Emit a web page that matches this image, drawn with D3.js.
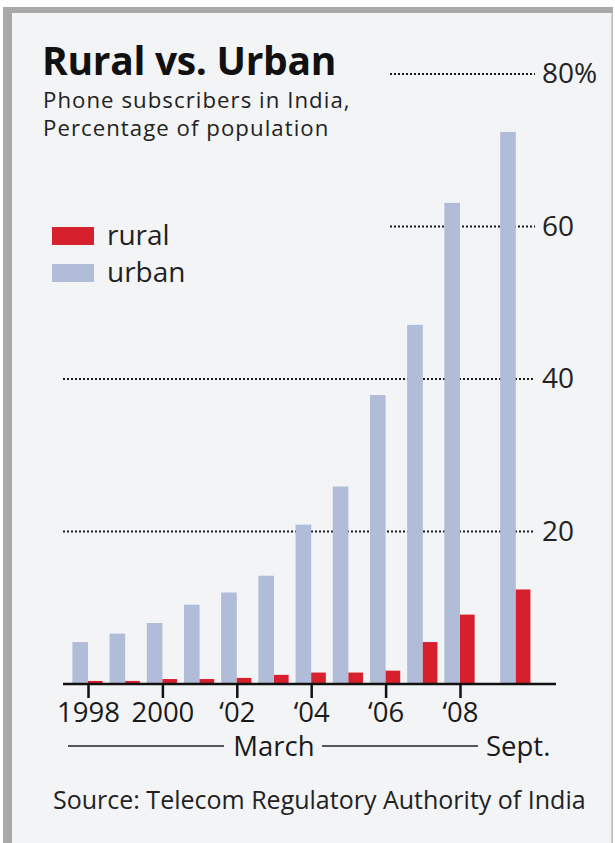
<!DOCTYPE html>
<html>
<head>
<meta charset="utf-8">
<script src="https://cdn.jsdelivr.net/npm/d3@7"></script>
<style>
  html, body { margin: 0; padding: 0; background: #ffffff; }
  svg { display: block; }
  text { font-family: "Open Sans", "Noto Sans", sans-serif; }
</style>
</head>
<body>
<script>
// ---- data ----
const periods = [1998, 1999, 2000, 2001, 2002, 2003, 2004, 2005, 2006, 2007, 2008, 2009.5];
const urban   = [5.5, 6.6, 8.0, 10.4, 12.0, 14.2, 20.9, 25.9, 37.9, 47.1, 63.1, 72.4];
const rural   = [0.4, 0.4, 0.65, 0.65, 0.8, 1.2, 1.5, 1.5, 1.75, 5.5, 9.1, 12.4];
const xTickValues = [1998, 2000, 2002, 2004, 2006, 2008];
const xTickLabels = ["1998", "2000", "\u201802", "\u201804", "\u201806", "\u201808"];
const yTickValues = [20, 40, 60, 80];
const yTickLabels = ["20", "40", "60", "80%"];
const seriesNames = ["rural", "urban"];
const titleText = "Rural vs. Urban";
const subtitleLines = ["Phone subscribers in India,", "Percentage of population"];

// ---- layout ----
const W = 615, H = 843;
const colors = { urban: "#b1bcd8", rural: "#d7202e" };

const svg = d3.select("body").append("svg").attr("width", W).attr("height", H);

// frame
svg.append("rect").attr("x", 3).attr("y", 7).attr("width", 610).attr("height", H - 7).attr("fill", "#a9a9a9");
svg.append("rect").attr("x", 12).attr("y", 13).attr("width", 599).attr("height", H - 13).attr("fill", "#f3f4f6");
svg.append("rect").attr("x", 611).attr("y", 13).attr("width", 1.5).attr("height", H - 13).attr("fill", "#d0d0d0");

const x = d3.scaleLinear().domain([1998, 2008]).range([88, 460]);
const y = d3.scaleLinear().domain([0, 80]).range([684, 74]);
const barW = x(1998.42) - x(1998);

// gridlines
const gridStart = v => v >= 60 ? 390 : 63;
svg.append("g").selectAll("line").data(yTickValues).join("line")
  .attr("x1", d => gridStart(d)).attr("x2", 535)
  .attr("y1", d => y(d)).attr("y2", d => y(d))
  .attr("stroke", "#1a1a1a").attr("stroke-width", 2)
  .attr("stroke-dasharray", "2,2");

// y labels
svg.append("g").selectAll("text").data(yTickValues).join("text")
  .attr("x", 542).attr("y", d => y(d) + 9)
  .attr("font-size", 28).attr("fill", "#222")
  .text((d, i) => yTickLabels[i]);

// bars
svg.append("g").selectAll("rect").data(periods).join("rect")
  .attr("x", d => x(d) - barW).attr("width", barW)
  .attr("y", (d, i) => y(urban[i])).attr("height", (d, i) => y(0) - y(urban[i]))
  .attr("fill", colors.urban);
svg.append("g").selectAll("rect").data(periods).join("rect")
  .attr("x", d => x(d)).attr("width", barW - 1)
  .attr("y", (d, i) => y(rural[i])).attr("height", (d, i) => y(0) - y(rural[i]))
  .attr("fill", colors.rural);

// x axis
const xAxis = d3.axisBottom(x).tickValues(xTickValues)
  .tickFormat((d, i) => xTickLabels[i]).tickSize(14).tickSizeOuter(0).tickPadding(4);
const gx = svg.append("g").attr("transform", `translate(0,${y(0)})`).call(xAxis);
gx.select(".domain").remove();
gx.selectAll(".tick line").attr("stroke", "#111").attr("stroke-width", 2.5);
gx.selectAll(".tick text").attr("font-size", 27.5).attr("fill", "#1a1a1a")
  .attr("font-family", "\"Open Sans\", sans-serif").attr("dy", "0.72em");
svg.append("line").attr("x1", 63).attr("x2", 556).attr("y1", y(0)).attr("y2", y(0))
  .attr("stroke", "#111").attr("stroke-width", 2.5);

// March / Sept. line
svg.append("line").attr("x1", 68).attr("x2", 224).attr("y1", 746).attr("y2", 746).attr("stroke", "#222").attr("stroke-width", 1.5);
svg.append("text").attr("x", 274).attr("y", 756).attr("text-anchor", "middle").attr("font-size", 27.5).attr("fill", "#1a1a1a").text("March");
svg.append("line").attr("x1", 322).attr("x2", 478).attr("y1", 746).attr("y2", 746).attr("stroke", "#222").attr("stroke-width", 1.5);
svg.append("text").attr("x", 486).attr("y", 756).attr("font-size", 27.5).attr("fill", "#1a1a1a").text("Sept.");

// title
svg.append("text").attr("x", 42).attr("y", 75).attr("font-size", 39).attr("font-weight", 700)
  .attr("fill", "#111").attr("letter-spacing", -0.3).text(titleText);
// subtitle
svg.append("g").selectAll("text").data(subtitleLines).join("text")
  .attr("x", 43).attr("y", (d, i) => 108 + i * 28)
  .attr("font-size", 22.2).attr("letter-spacing", 1.05).attr("fill", "#222")
  .text(d => d);

// legend
const legend = svg.append("g").selectAll("g").data(seriesNames).join("g")
  .attr("transform", (d, i) => `translate(52,${227 + i * 37})`);
legend.append("rect").attr("width", 42).attr("height", 18).attr("fill", d => colors[d]);
legend.append("text").attr("x", 55).attr("y", 18).attr("font-size", 28).attr("fill", "#222").text(d => d);

// source
svg.append("text").attr("x", 53).attr("y", 809).attr("font-size", 25).attr("fill", "#222")
  .text("Source: Telecom Regulatory Authority of India");
</script>
</body>
</html>
